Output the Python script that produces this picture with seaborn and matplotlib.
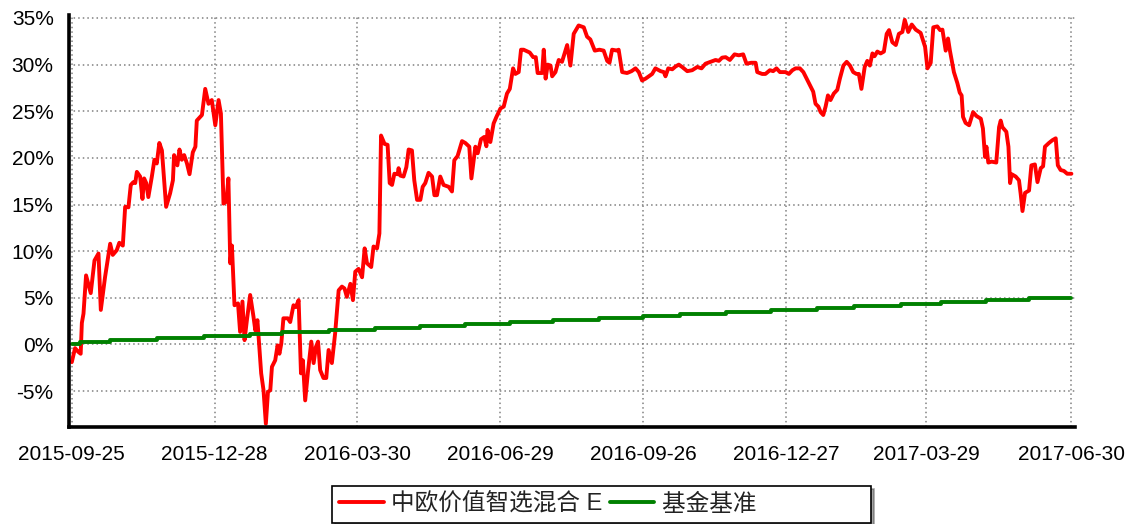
import numpy as np
import pandas as pd
import matplotlib
matplotlib.use("Agg")
import matplotlib.pyplot as plt
import seaborn as sns
from matplotlib.ticker import FixedLocator, MultipleLocator, FuncFormatter

# trading-day index (0 = 2015-09-25) and cumulative return in %
fund_day = [0, 1.4, 2.8, 3.8, 4.3, 5.0, 6.1, 8.1, 9.7, 11.4, 12.4, 14.2, 16.4, 17.5, 19.2, 20.3,
            21.8, 22.8, 24.2, 25.2, 26.3, 27.1, 27.8, 29.2, 30.2, 30.9, 31.8, 32.7, 34.2, 35.3,
            36.3, 37.4, 38.5, 40.3, 42.0, 43.2, 43.7, 45.1, 46.0, 47.0, 48.0, 49.2, 50.3, 51.7,
            52.8, 53.4, 55.6, 57.0, 58.4, 59.8, 61.3, 62.7, 63.7, 64.8, 66.0, 66.9, 67.7, 68.4,
            69.5, 71.0, 71.9, 72.9, 73.8, 74.8, 76.2, 77.6, 78.4, 79.3, 80.9, 81.9, 82.9, 83.8,
            84.8, 85.5, 86.9, 87.9, 88.7, 89.5, 90.4, 92.3, 93.3, 94.7, 95.7, 96.9, 97.9, 98.7,
            99.7, 100.9, 102.3, 103.3, 104.3, 105.2, 106.1, 107.5, 108.7, 109.7, 111.1, 112.5,
            114.0, 115.4, 116.5, 117.5, 119.0, 120.1, 121.1, 122.5, 124.0, 125.1, 126.1, 127.9,
            128.9, 130.4, 131.4, 132.1, 133.6, 134.9, 135.8, 136.8, 137.8, 139.2, 139.6, 140.3,
            141.7, 142.9, 143.9, 145.3, 146.3, 147.5, 148.9, 149.9, 151.0, 152.4, 153.9, 154.9,
            156.0, 157.4, 158.8, 161.0, 162.4, 163.4, 164.8, 166.7, 168.1, 169.8, 170.7, 172.4,
            173.4, 174.8, 176.2, 177.1, 177.6, 178.8, 180.2, 181.4, 183.1, 184.5, 185.9, 187.1,
            188.5, 189.5, 190.9, 191.9, 193.0, 195.6, 197.1, 198.2, 199.0, 200.9, 201.6, 202.4,
            203.3, 204.5, 205.2, 206.6, 208.0, 209.4, 211.6, 213.0, 214.4, 216.5, 218.7, 220.1,
            221.5, 223.4, 225.4, 227.2, 228.7, 229.7, 230.8, 233.0, 233.6, 235.1, 237.2, 239.1,
            240.8, 242.2, 243.6, 245.1, 247.9, 249.3, 251.5, 252.9, 253.6, 254.8, 256.5, 257.9,
            259.3, 260.7, 262.9, 265.0, 267.2, 269.0, 270.7, 272.8, 275.0, 276.4, 277.8, 279.3,
            281.1, 283.1, 284.9, 286.8, 288.2, 290.2, 292.1, 292.8, 294.9, 296.3, 298.2, 299.6,
            301.0, 302.5, 304.9, 306.3, 307.8, 309.2, 311.0, 312.5, 313.9, 315.3, 316.7, 317.7,
            318.9, 319.9, 321.0, 322.0, 323.0, 324.1, 325.5, 327.0, 328.1, 329.6, 331.0, 332.4,
            333.8, 335.2, 336.2, 337.3, 338.7, 339.8, 340.9, 342.0, 342.9, 344.1, 345.5, 346.9,
            348.1, 349.1, 350.5, 352.0, 353.3, 354.8, 355.8, 357.3, 358.8, 360.5, 362.6, 364.5,
            365.5, 366.9, 368.0, 369.7, 370.9, 371.9, 373.3, 374.3, 375.1, 376.8, 378.3, 379.3,
            380.1, 380.7, 381.8, 383.3, 385.0, 386.4, 388.3, 389.2, 390.1, 390.7, 391.5, 392.9,
            394.9, 396.1, 396.8, 397.5, 399.2, 400.1, 400.8, 401.5, 403.2, 404.6, 405.3, 406.1,
            407.2, 408.9, 409.9, 411.4, 412.5, 413.9, 414.9, 415.7, 417.4, 418.9, 420.3, 421.2,
            422.4, 423.8, 425.2, 427.0]
fund_ret = [-1.9, -0.4, -0.8, -1.0, 2.3, 3.3, 7.4, 5.5, 9.0, 9.75, 3.7, 7.2, 10.8, 9.6, 10.1, 10.9,
            10.6, 14.75, 14.7, 17.1, 17.4, 17.3, 18.5, 18.0, 15.6, 17.8, 17.3, 15.8, 18.0, 19.8,
            19.4, 21.6, 20.8, 14.75, 16.2, 17.6, 20.3, 19.2, 20.9, 19.8, 20.3, 19.4, 18.25, 20.6,
            21.2, 24.0, 24.6, 27.4, 25.8, 26.2, 23.5, 26.2, 24.75, 15.1, 15.3, 17.8, 8.7, 10.6,
            4.2, 4.4, 1.35, 4.6, 0.46, 2.6, 5.3, 3.0, 1.5, 2.6, -3.1, -4.9, -8.5, -5.1,
            -4.9, -2.4, -1.7, -0.1, -1.0, 0.1, 2.8, 2.8, 2.4, 4.2, 4.0, 4.75, -3.1, -1.7,
            -6.0, -2.9, 0.3, -2.0, -0.26, 0.3, -2.75, -3.6, -3.6, -0.6, -2.0, 1.2,
            5.8, 6.2, 6.0, 5.1, 6.5, 4.75, 7.8, 8.1, 7.2, 10.3, 8.7, 8.3,
            10.5, 10.3, 11.9, 22.4, 21.5, 21.4, 17.3, 17.1, 18.3, 18.25, 18.9, 18.1,
            18.0, 19.0, 20.9, 20.8, 17.6, 15.5, 15.5, 16.9, 17.3, 18.4, 18.0, 16.0,
            16.0, 18.0, 17.1, 16.9, 16.4, 19.75, 20.2, 21.8, 21.6, 21.2, 17.8, 21.2,
            20.5, 22.0, 22.25, 21.25, 23.0, 21.7, 23.7, 24.4, 25.3, 25.5, 26.9, 27.4,
            29.6, 29.0, 29.2, 31.6, 31.6, 31.3, 30.8, 30.8, 29.1, 29.1, 31.6, 28.5,
            30.0, 29.9, 28.75, 29.2, 30.5, 30.3, 32.1, 29.9, 33.3, 34.2, 34.0, 33.0,
            32.7, 31.5, 31.6, 31.5, 30.4, 30.2, 31.6, 31.5, 31.6, 29.2, 29.1, 29.3,
            29.6, 29.2, 28.3, 28.5, 29.0, 29.6, 29.3, 29.2, 28.75, 29.6, 29.5, 29.8,
            30.0, 29.75, 29.3, 29.4, 29.75, 29.6, 30.1, 30.3, 30.5, 30.4, 30.75, 30.8,
            30.5, 31.1, 31.0, 31.1, 30.1, 30.2, 30.2, 29.2, 29.0, 29.0, 29.4, 29.3,
            29.6, 29.2, 29.2, 29.0, 29.4, 29.6, 29.6, 29.2, 28.5, 27.8, 27.1, 25.8,
            25.5, 24.9, 24.6, 25.5, 26.7, 26.2, 26.9, 27.3, 28.5, 29.9, 30.3, 29.9,
            29.2, 29.0, 29.0, 27.4, 29.75, 30.4, 29.9, 31.2, 30.9, 31.4, 31.2, 31.4,
            33.3, 33.7, 32.4, 32.1, 33.3, 33.5, 34.8, 33.5, 34.3, 33.75, 33.4, 31.9,
            29.6, 30.2, 34.0, 34.1, 33.7, 33.75, 31.5, 32.8, 31.5, 29.2, 28.0, 27.0,
            26.7, 24.4, 23.75, 23.5, 24.9, 24.5, 24.2, 23.15, 20.1, 21.2, 19.5, 19.6,
            19.5, 23.3, 24.0, 23.3, 22.8, 21.2, 17.3, 18.25, 18.0, 17.6, 16.2, 14.3,
            16.25, 16.5, 19.2, 19.3, 17.4, 18.9, 19.1, 21.2, 21.6, 21.9, 22.1, 19.2,
            18.7, 18.6, 18.3, 18.3]

# benchmark: step changes (trading-day index) and level in %
bench_day = [0, 3.5, 16.4, 36.3, 56.3, 76.2, 89.8, 109.7, 129.6, 148.9, 168.1, 187.4, 205.7,
             225.0, 244.2, 260.0, 279.3, 298.5, 318.4, 334.1, 354.1, 371.2, 390.4, 408.9, 427.0]
bench_ret = [0.00, 0.21, 0.43, 0.64, 0.86, 1.07, 1.28, 1.50, 1.71, 1.93, 2.14, 2.36, 2.57,
             2.79, 3.00, 3.21, 3.43, 3.64, 3.86, 4.07, 4.29, 4.50, 4.71, 4.93, 4.93]

tick_day = [0, 61, 122, 183, 244, 305, 365, 427]
tick_labels = ["2015-09-25", "2015-12-28", "2016-03-30", "2016-06-29",
               "2016-09-26", "2016-12-27", "2017-03-29", "2017-06-30"]

fund_name = "中欧价值智选混合 E"
bench_name = "基金基准"

df_fund = pd.DataFrame({"day": fund_day, "ret": fund_ret})
df_bench = pd.DataFrame({"day": bench_day, "ret": bench_ret})

sns.set_style("white")
plt.rcParams["font.family"] = ["Liberation Sans", "Noto Sans CJK SC", "DejaVu Sans"]

fig = plt.figure(figsize=(11.27, 5.24), dpi=100)
ax = fig.add_axes([0.0612, 0.185, 0.8928, 0.786])

sns.lineplot(data=df_fund, x="day", y="ret", color="#ff0000", linewidth=2.8,
             estimator=None, sort=False, ax=ax, label=fund_name)
# trailing spaces keep the empty room on the right of the legend box
sns.lineplot(data=df_bench, x="day", y="ret", color="#008000", linewidth=2.8,
             estimator=None, sort=False, drawstyle="steps-post", ax=ax,
             label=bench_name + "\u3000" * 4 + "  ")

ax.set_xlim(-1.2, 428.6)
ax.set_ylim(-8.86, 35.3)

ax.xaxis.set_major_locator(FixedLocator(tick_day))
ax.set_xticklabels(tick_labels)
minor = []
for a, b in zip(tick_day[:-1], tick_day[1:]):
    minor += list(np.linspace(a, b, 5)[1:-1])
ax.xaxis.set_minor_locator(FixedLocator(minor))
ax.yaxis.set_major_locator(MultipleLocator(5))
ax.yaxis.set_minor_locator(MultipleLocator(1))
ax.yaxis.set_major_formatter(FuncFormatter(lambda v, p: f"{v:.0f}%"))

ax.grid(True, which="major", color="#808080", linestyle=(0, (1, 2)), linewidth=1.1)
ax.set_axisbelow(True)
for s in ["top", "right"]:
    ax.spines[s].set_visible(False)
for s in ["left", "bottom"]:
    ax.spines[s].set_color("black")
    ax.spines[s].set_linewidth(2.6)

ax.tick_params(axis="both", which="major", direction="out", length=5, width=1,
               color="#606060", labelsize=15, labelcolor="black")
ax.tick_params(axis="both", which="minor", direction="out", length=3, width=1, color="#606060")
ax.tick_params(axis="x", which="major", length=6, pad=7)
ax.tick_params(axis="y", which="major", pad=6)
ax.set_xlabel("")
ax.set_ylabel("")

ax.get_legend().remove()
handles, labels = ax.get_legend_handles_labels()
leg = fig.legend(handles, labels, loc="lower center", bbox_to_anchor=(0.5337, 0.0),
                 ncol=2, frameon=True, fancybox=False, shadow=True, fontsize=17,
                 handlelength=1.9, columnspacing=0.3, handletextpad=0.3,
                 borderpad=0.3, borderaxespad=0.05)
leg.get_frame().set_edgecolor("black")
leg.get_frame().set_linewidth(1.2)
for t in leg.get_texts():
    t.set_color("#222222")

plt.savefig("out.png", dpi=100)
